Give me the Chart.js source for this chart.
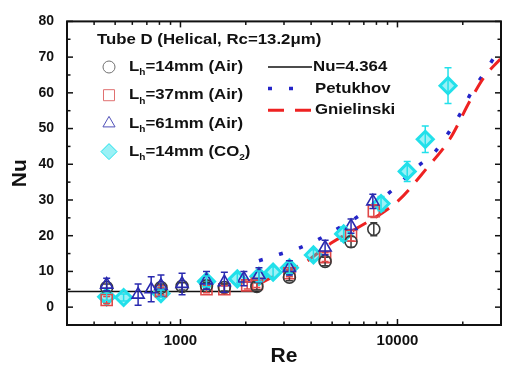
<!DOCTYPE html>
<html>
<head>
<meta charset="utf-8">
<script src="https://cdn.jsdelivr.net/npm/chart.js@4.4.1/dist/chart.umd.min.js"></script>
<style>
  html, body { margin: 0; padding: 0; background: #fff; }
</style>
</head>
<body>
<canvas id="chart" width="512" height="373"></canvas>
<script>
// Nu vs Re, tube D (helical)
const FONT = "'Liberation Sans', Arial, sans-serif";

const legendTitle = 'Tube D (Helical, Rc=13.2\u03bcm)';
const seriesLabels = ['L_h=14mm (Air)', 'L_h=37mm (Air)', 'L_h=61mm (Air)', 'L_h=14mm (CO_2)'];
const lineLabels = ['Nu=4.364', 'Petukhov', 'Gnielinski'];

const reAir14 = [457, 813, 1017, 1318, 1593, 2250, 3177, 4640, 6110, 7780];
const nuAir14 = [5.5, 5.5, 5.8, 6.0, 5.5, 5.8, 8.4, 12.8, 18.3, 21.8];
const errAir14 = [1.0, 1.0, 1.0, 1.0, 1.0, 1.0, 1.0, 1.2, 1.5, 1.8];

const reAir37 = [457, 813, 1318, 1593, 2030, 2250, 3177, 4640, 6110, 7780];
const nuAir37 = [2.0, 4.5, 5.0, 5.0, 6.1, 6.5, 9.5, 14.0, 20.0, 26.9];
const errAir37 = [1.0, 1.0, 1.0, 1.0, 1.0, 1.0, 1.0, 1.2, 1.5, 1.8];

const reAir61 = [457, 638, 733, 813, 1017, 1318, 1593, 1960, 2300, 3177, 4640, 6110, 7700];
const nuAir61 = [6.3, 3.5, 5.0, 6.0, 6.5, 7.5, 7.0, 8.0, 9.0, 11.0, 16.7, 22.7, 29.6];
const errAir61 = [1.8, 3.0, 3.5, 3.0, 3.0, 2.5, 2.8, 2.0, 2.0, 2.0, 2.0, 2.0, 2.0];

const reCO2 = [457, 547, 813, 1318, 1828, 2300, 2672, 3177, 4100, 5650, 8400, 11090, 13430, 17100];
const nuCO2 = [2.9, 2.7, 3.8, 7.2, 7.9, 8.6, 9.8, 11.0, 14.6, 20.5, 29.0, 38.0, 47.0, 62.0];
const errCO2 = [1.0, 1.0, 1.0, 1.5, 1.5, 1.5, 1.5, 1.5, 1.5, 2.0, 2.0, 2.8, 3.7, 5.0];

const laminarRe = [300, 2300];
const laminarNu = [4.364, 4.364];

const petRe = [2300, 2860, 3510, 4330, 5240, 6430, 9700, 12100, 14900, 17100, 19400, 21900, 24900, 28400];
const petNu = [13.0, 14.8, 16.5, 19.0, 21.8, 25.0, 33.3, 38.9, 43.5, 48.6, 54.0, 60.1, 65.2, 70.7];

const gnRe = [2300, 3000, 3650, 4970, 6550, 10000, 13650, 17400, 21700, 25000, 29800];
const gnNu = [6.5, 10.0, 12.1, 18.0, 22.2, 29.6, 38.9, 47.0, 58.0, 64.3, 69.5];

const reTicks = [1000, 10000];
const reMinor = [400, 500, 600, 700, 800, 900, 2000, 3000, 4000, 5000, 6000, 7000, 8000, 9000, 20000];
const nuTicks = [0, 10, 20, 30, 40, 50, 60, 70, 80];
const nuMinor = [-5, 5, 15, 25, 35, 45, 55, 65, 75];

function pts(xs, ys) { return xs.map((v, i) => ({ x: v, y: ys[i] })); }

function drawRich(ctx, label, x, y, size) {
    // "_c" means subscript c
    const parts = [];
    for (let i = 0; i < label.length; i++) {
        if (label[i] === '_') { parts.push({ t: label[i + 1], sub: true }); i++; }
        else if (parts.length && !parts[parts.length - 1].sub) parts[parts.length - 1].t += label[i];
        else parts.push({ t: label[i], sub: false });
    }
    ctx.save();
    ctx.translate(x, y);
    ctx.scale(1.12, 1);
    let cx = 0;
    parts.forEach(p => {
        ctx.font = `bold ${p.sub ? Math.round(size * 0.6) : size}px ${FONT}`;
        ctx.fillText(p.t, cx, p.sub ? size * 0.4 : 0);
        cx += ctx.measureText(p.t).width;
    });
    ctx.restore();
}

const errorBarPlugin = {
    id: 'errorBars',
    afterDatasetsDraw(chart) {
        const { ctx, chartArea: a, scales: { x, y } } = chart;
        ctx.save();
        ctx.beginPath(); ctx.rect(a.left, a.top, a.right - a.left, a.bottom - a.top); ctx.clip();
        chart.data.datasets.forEach(ds => {
            if (!ds.errorBars) return;
            ctx.strokeStyle = ds.borderColor;
            ctx.lineWidth = 1.5;
            ds.data.forEach((p, j) => {
                const e = ds.errorBars[j];
                const px = x.getPixelForValue(p.x);
                const y1 = y.getPixelForValue(p.y + e), y2 = y.getPixelForValue(p.y - e);
                ctx.beginPath();
                ctx.moveTo(px, y1); ctx.lineTo(px, y2);
                ctx.moveTo(px - 3.5, y1); ctx.lineTo(px + 3.5, y1);
                ctx.moveTo(px - 3.5, y2); ctx.lineTo(px + 3.5, y2);
                ctx.stroke();
            });
        });
        ctx.restore();
    }
};

const framePlugin = {
    id: 'frame',
    afterDatasetsDraw(chart) {
        const { ctx, chartArea: a, scales: { x, y } } = chart;
        ctx.save();
        ctx.strokeStyle = '#111';
        ctx.lineWidth = 1.5;
        const tick = (x1, y1, x2, y2) => { ctx.beginPath(); ctx.moveTo(x1, y1); ctx.lineTo(x2, y2); ctx.stroke(); };
        reTicks.forEach(v => { const p = x.getPixelForValue(v); tick(p, a.bottom, p, a.bottom - 6); tick(p, a.top, p, a.top + 6); });
        reMinor.forEach(v => { const p = x.getPixelForValue(v); tick(p, a.bottom, p, a.bottom - 3.5); tick(p, a.top, p, a.top + 3.5); });
        nuTicks.forEach(v => { const p = y.getPixelForValue(v); tick(a.left, p, a.left + 6, p); tick(a.right, p, a.right - 6, p); });
        nuMinor.forEach(v => { const p = y.getPixelForValue(v); tick(a.left, p, a.left + 3.5, p); tick(a.right, p, a.right - 3.5, p); });
        ctx.lineWidth = 2;
        ctx.strokeRect(a.left, a.top, a.right - a.left, a.bottom - a.top);
        ctx.restore();
    }
};

const legendPlugin = {
    id: 'figLegend',
    afterDraw(chart) {
        const ctx = chart.ctx;
        const ds = chart.data.datasets;
        ctx.save();
        ctx.fillStyle = '#111';
        ctx.textBaseline = 'middle';
        drawRich(ctx, legendTitle, 97, 40, 15);
        // marker entries
        [0, 1, 2, 3].forEach((k, i) => {
            const d = ds[k], yy = 67 + i * 28.2;
            ctx.save();
            ctx.strokeStyle = d.legendColor || d.borderColor;
            ctx.fillStyle = d.backgroundColor;
            Chart.helpers.drawPoint(ctx, { pointStyle: d.pointStyle, radius: d.pointRadius, borderWidth: d.borderWidth, rotation: 0 }, 109, yy);
            ctx.restore();
            drawRich(ctx, seriesLabels[i], 129, yy, 15);
        });
        // line entries
        [4, 5, 6].forEach((k, i) => {
            const d = ds[k], yy = 67 + i * 21.6;
            ctx.save();
            ctx.strokeStyle = d.borderColor;
            ctx.lineWidth = d.borderWidth;
            ctx.setLineDash(d.borderDash || []);
            ctx.beginPath(); ctx.moveTo(268, yy); ctx.lineTo(i === 1 ? 300 : 312, yy); ctx.stroke();
            ctx.restore();
            drawRich(ctx, lineLabels[i], i === 0 ? 313 : 315, yy, 15);
        });
        ctx.restore();
    }
};

new Chart(document.getElementById('chart').getContext('2d'), {
    type: 'scatter',
    data: {
        datasets: [
            { label: seriesLabels[0], data: pts(reAir14, nuAir14), errorBars: errAir14, pointStyle: 'circle', pointRadius: 6,
              borderColor: '#3a3a3a', legendColor: '#707070', backgroundColor: 'rgba(0,0,0,0)', borderWidth: 1.6, order: 2 },
            { label: seriesLabels[1], data: pts(reAir37, nuAir37), errorBars: errAir37, pointStyle: 'rect', pointRadius: 7.8,
              borderColor: '#e04848', legendColor: '#e07070', backgroundColor: 'rgba(0,0,0,0)', borderWidth: 1.6, order: 3 },
            { label: seriesLabels[2], data: pts(reAir61, nuAir61), errorBars: errAir61, pointStyle: 'triangle', pointRadius: 7,
              borderColor: '#2a2ab0', legendColor: '#5050b8', backgroundColor: 'rgba(0,0,0,0)', borderWidth: 1.6, order: 1 },
            { label: seriesLabels[3], data: pts(reCO2, nuCO2), errorBars: errCO2, pointStyle: 'rectRot', pointRadius: 8,
              borderColor: '#22e0ea', backgroundColor: 'rgba(34,224,234,0.45)', borderWidth: 3, order: 4 },
            { label: lineLabels[0], data: pts(laminarRe, laminarNu), showLine: true, pointRadius: 0,
              borderColor: '#111', borderWidth: 1.6, order: 10 },
            { label: lineLabels[1], data: pts(petRe, petNu), showLine: true, pointRadius: 0, cubicInterpolationMode: 'monotone',
              borderColor: '#2424c8', borderWidth: 3.5, borderDash: [4, 17], order: 9 },
            { label: lineLabels[2], data: pts(gnRe, gnNu), showLine: true, pointRadius: 0, cubicInterpolationMode: 'monotone',
              borderColor: '#ee2222', borderWidth: 3, borderDash: [16, 11], order: 8 }
        ]
    },
    options: {
        responsive: false,
        animation: false,
        layout: { padding: { top: 18, right: 1, left: 0, bottom: 0 } },
        plugins: { legend: { display: false }, tooltip: { enabled: false } },
        scales: {
            x: {
                type: 'logarithmic', min: 300, max: 30000,
                grid: { display: false, drawTicks: false }, border: { display: false },
                afterBuildTicks: s => { s.ticks = reTicks.map(v => ({ value: v })); },
                afterFit: s => { s.height = 48; },
                ticks: { callback: v => String(v), color: '#111', padding: 7, maxRotation: 0, autoSkip: false,
                         font: { family: FONT, size: 15, weight: 'bold' } },
                title: { display: true, text: 'Re', color: '#111', padding: { top: 4, bottom: 4 },
                         font: { family: FONT, size: 21, weight: 'bold' } }
            },
            y: {
                min: -5, max: 80,
                grid: { display: false, drawTicks: false }, border: { display: false },
                afterBuildTicks: s => { s.ticks = nuTicks.map(v => ({ value: v })); },
                afterFit: s => { s.width = 67; },
                ticks: { callback: v => String(v), color: '#111', padding: 13,
                         font: { family: FONT, size: 14, weight: 'bold' } },
                title: { display: true, text: 'Nu', color: '#111', padding: { top: 8, bottom: 4 },
                         font: { family: FONT, size: 21, weight: 'bold' } }
            }
        }
    },
    plugins: [errorBarPlugin, framePlugin, legendPlugin]
});
</script>
</body>
</html>
